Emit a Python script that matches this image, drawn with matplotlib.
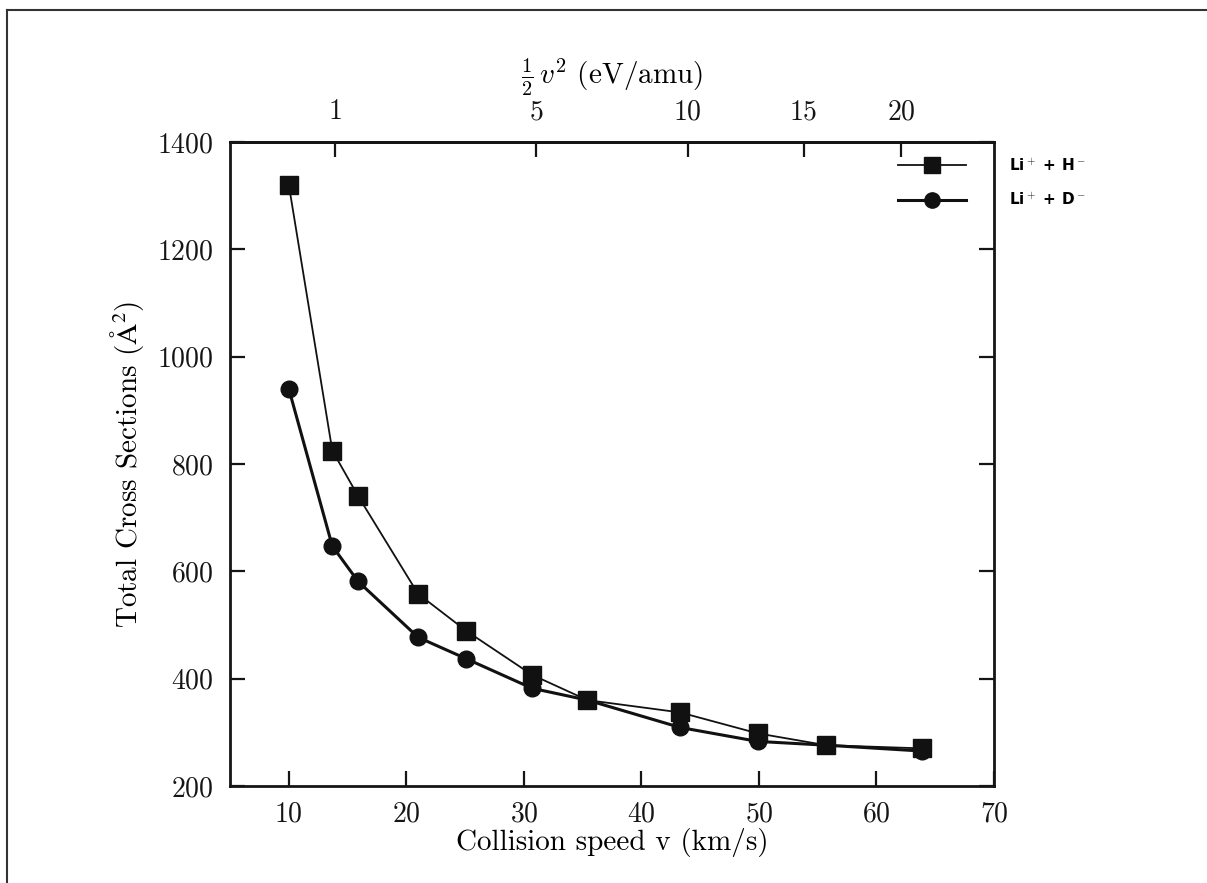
""" Total cross sections for Li+ + H- / Li+ + D- versus collision speed. """

import numpy as np
import matplotlib
matplotlib.use("Agg")
from matplotlib import pyplot as plt
from matplotlib.lines import Line2D

plt.rcParams['font.family'] = ['cmr10', 'DejaVu Serif']
plt.rcParams['mathtext.fontset'] = 'cm'
plt.rcParams['axes.formatter.use_mathtext'] = True

# Data
speed_H = [10.0, 13.7, 15.9, 21.0, 25.1, 30.7, 35.4, 43.3, 49.9, 55.7, 63.9]
sigma_H = [1320, 825, 740, 558, 489, 407, 360, 337, 298, 276, 270]
speed_D = [10.0, 13.7, 15.9, 21.0, 25.1, 30.7, 35.4, 43.3, 49.9, 55.7, 63.9]
sigma_D = [940, 647, 581, 477, 437, 382, 360, 309, 283, 276, 265]

lbl_H = r'Li$^+$ + H$^-$'
lbl_D = r'Li$^+$ + D$^-$'

x_ticks = [10, 20, 30, 40, 50, 60, 70]
y_ticks = [200, 400, 600, 800, 1000, 1200, 1400]
e_ticks = [1, 5, 10, 15, 20]

# 1/2 v^2 in eV/amu for v in km/s
EV_PER_KMS2 = 0.5 * 1.66054e-27 * 1e6 / 1.602177e-19


def v2e(v):
    return EV_PER_KMS2 * np.asarray(v, dtype=float)**2


def e2v(e):
    return np.sqrt(np.maximum(np.asarray(e, dtype=float), 0.) / EV_PER_KMS2)


fig = plt.figure(figsize=(12.07, 8.83), dpi=100)
ax = fig.add_axes([0.1906, 0.1099, 0.6329, 0.7293])

ax.plot(speed_H, sigma_H, color='#111111', lw=1.3, marker='s', ms=12.5,
        clip_on=False, zorder=3)
ax.plot(speed_D, sigma_D, color='#111111', lw=2.2, marker='o', ms=12,
        clip_on=False, zorder=3)

ax.set_xlim(5, 70)
ax.set_ylim(200, 1400)
ax.set_xticks(x_ticks)
ax.set_yticks(y_ticks)

for sp in ax.spines.values():
    sp.set_linewidth(2.0)
    sp.set_color('#151515')

ax.tick_params(which='both', direction='in', length=11, width=1.6,
               labelsize=20, pad=11, top=False, right=True, colors='#151515')
ax.tick_params(axis='y', pad=12)

ax.set_xlabel('Collision speed v (km/s)', fontsize=21, labelpad=0)
ax.set_ylabel(r'Total Cross Sections ($\mathrm{Å}^2$)', fontsize=21,
              labelpad=8, math_fontfamily='stix')

# Top axis: 1/2 v^2 (eV/amu)
sec = ax.secondary_xaxis('top', functions=(v2e, e2v))
sec.set_xticks(e_ticks)
sec.tick_params(direction='in', length=11, width=1.6, labelsize=20, pad=12,
                colors='#151515')
sec.spines['top'].set_linewidth(2.0)
sec.set_xlabel(r'$\frac{1}{2}\,v^2$ (eV/amu)', fontsize=21, labelpad=11)

# Legend: handles inside the frame, labels outside to the right
handles = [Line2D([], [], color='#111111', lw=1.3, marker='s', ms=11),
           Line2D([], [], color='#111111', lw=2.2, marker='o', ms=11)]
leg = ax.legend(handles, [lbl_H, lbl_D], loc='upper left',
                bbox_to_anchor=(0.874, 0.976), frameon=False,
                borderpad=0, borderaxespad=0, handlelength=4.5,
                handletextpad=2.8, labelspacing=1.2,
                prop={'family': 'DejaVu Sans', 'weight': 'bold', 'size': 11})

# Scan frame (top and left edges)
fig.add_artist(Line2D([7 / 1207, 1], [1 - 10 / 883, 1 - 10 / 883],
                      transform=fig.transFigure, color='#333333', lw=1.5))
fig.add_artist(Line2D([7 / 1207, 7 / 1207], [0, 1 - 10 / 883],
                      transform=fig.transFigure, color='#333333', lw=1.5))

fig.savefig('out.png', dpi=100)
